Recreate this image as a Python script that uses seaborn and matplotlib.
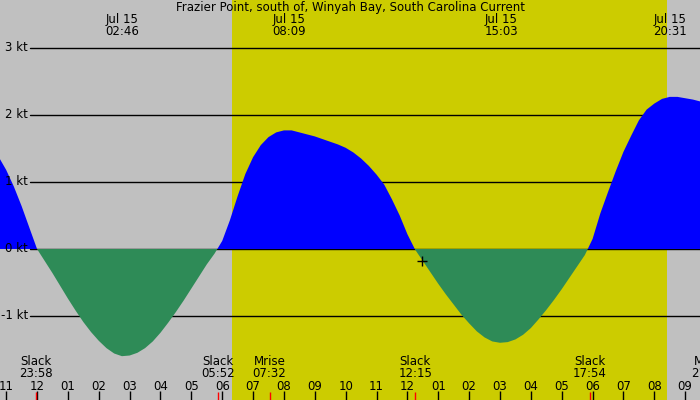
import numpy as np
import matplotlib
matplotlib.use("Agg")
import matplotlib.pyplot as plt
import seaborn as sns

sns.set_theme(style="white")
plt.rcParams['font.family'] = ['DejaVu Sans']
plt.rcParams['text.color'] = 'black'

title = "Frazier Point, south of, Winyah Bay, South Carolina Current"

# current speed (kt), sampled every 15 min starting Jul 14 22:45 (hours relative to Jul 15 00:00)
hours = np.arange(-1.25, 21.51, 0.25)
knots = [1.38, 1.18, 0.93, 0.64, 0.32,
         0.00, -0.18, -0.36, -0.55, -0.74, -0.92, -1.09, -1.24, -1.37, -1.48, -1.56, -1.60,
         -1.59, -1.55, -1.48, -1.38, -1.25, -1.10, -0.94, -0.77, -0.59, -0.41, -0.23, -0.07,
         0.12, 0.43, 0.79, 1.12, 1.37, 1.55, 1.67, 1.74, 1.77, 1.77, 1.74, 1.71, 1.68,
         1.64, 1.60, 1.56, 1.51, 1.44, 1.35, 1.24, 1.11, 0.96, 0.74, 0.50, 0.22,
         -0.01, -0.18, -0.35, -0.52, -0.68, -0.83, -0.98, -1.11, -1.23, -1.32, -1.38, -1.40,
         -1.39, -1.35, -1.28, -1.18, -1.05, -0.91, -0.76, -0.60, -0.43, -0.26, -0.09,
         0.15, 0.53, 0.85, 1.16, 1.45, 1.69, 1.92, 2.08, 2.17, 2.24, 2.27, 2.27, 2.25, 2.23, 2.20]

# max / min current labels at top
peak_times = ["02:46", "08:09", "15:03", "20:31"]
peak_date = "Jul 15"

# events at bottom
event_names = ["Slack", "Slack", "Mrise", "Slack", "Slack", "Mset"]
event_times = ["23:58", "05:52", "07:32", "12:15", "17:54", "21:45"]
event_day_offset = [-24, 0, 0, 0, 0, 0]

sunrise = "06:19"
sunset = "20:25"

hour_ticks = list(range(-1, 22))
hour_labels = ["11", "12", "01", "02", "03", "04", "05", "06", "07", "08", "09", "10",
               "11", "12", "01", "02", "03", "04", "05", "06", "07", "08", "09"]

kt_levels = [-1, 0, 1, 2, 3]
now_hour, now_kt = 12.47, -0.175


def to_h(s):
    hh, mm = s.split(":")
    return int(hh) + int(mm) / 60


df_x = np.array(hours)
df_y = np.array(knots)
fs = 8.5

fig = plt.figure(figsize=(7, 4), dpi=100)
fig.patch.set_facecolor("#C0C0C0")
ax = fig.add_axes([0, 0, 1, 1])
ax.set_axis_off()
ax.set_xlim(-1.2, 21.48)
ax.set_ylim(-2.254, 3.716)

ax.axvspan(to_h(sunrise), to_h(sunset), color="#CCCC00", lw=0, zorder=0)

for lv in kt_levels:
    ax.axhline(lv, xmin=30 / 700, xmax=1, color="black", lw=1, zorder=1)
    ax.text(0.04, lv, f"{lv} kt", transform=ax.get_yaxis_transform(), ha="right", va="center",
            fontsize=fs)

ax.fill_between(df_x, df_y, 0, where=df_y >= 0, interpolate=True, color="#0000FF", lw=0, zorder=2)
ax.fill_between(df_x, df_y, 0, where=df_y <= 0, interpolate=True, color="#2E8B57", lw=0, zorder=2)

ax.plot([now_hour], [now_kt], marker="+", color="black", markersize=7, mew=1, zorder=3)

xt = ax.get_xaxis_transform()
ax.text(0.5, 0.98, title, transform=ax.transAxes, ha="center", va="center", fontsize=fs)
for t in peak_times:
    ax.text(to_h(t), 0.95, peak_date, transform=xt, ha="center", va="center", fontsize=fs)
    ax.text(to_h(t), 0.921, t, transform=xt, ha="center", va="center", fontsize=fs)

ax.vlines(hour_ticks, 0, 0.023, transform=xt, color="black", lw=1, zorder=4)
for h, lab in zip(hour_ticks, hour_labels):
    ax.text(h, 0.035, lab, transform=xt, ha="center", va="center", fontsize=fs)

for name, t, off in zip(event_names, event_times, event_day_offset):
    h = to_h(t) + off
    ax.vlines(h, 0, 0.02, transform=xt, color="red", lw=1, zorder=4)
    ax.text(h, 0.096, name, transform=xt, ha="center", va="center", fontsize=fs)
    ax.text(h, 0.066, t, transform=xt, ha="center", va="center", fontsize=fs)

plt.savefig("out.png", dpi=100, facecolor=fig.get_facecolor())
